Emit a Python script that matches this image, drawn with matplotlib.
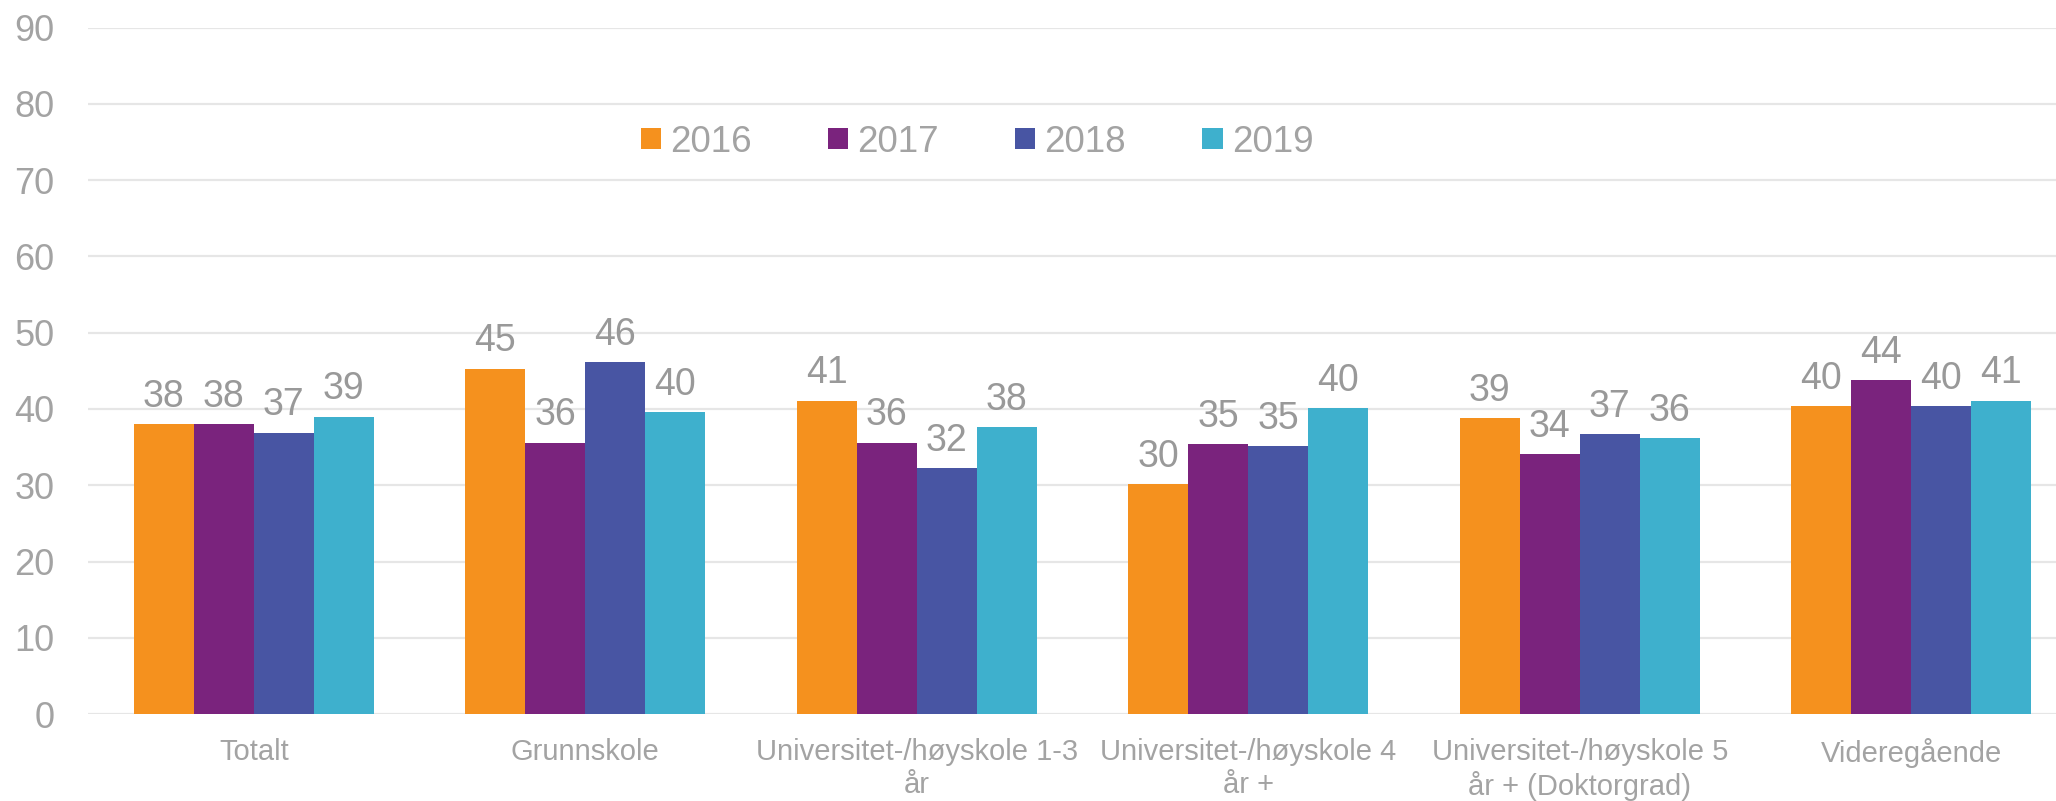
import numpy as np
import matplotlib
matplotlib.use("Agg")
import matplotlib.pyplot as plt

categories = [
    "Totalt",
    "Grunnskole",
    "Universitet-/høyskole 1-3\når",
    "Universitet-/høyskole 4\når +",
    "Universitet-/høyskole 5\når + (Doktorgrad)",
    "Videregående",
]
years = ["2016", "2017", "2018", "2019"]
v2016 = [38.0, 45.3, 41.1, 30.1, 38.8, 40.35]
v2017 = [38.0, 35.6, 35.6, 35.4, 34.05, 43.8]
v2018 = [36.9, 46.1, 32.2, 35.1, 36.7, 40.35]
v2019 = [39.0, 39.6, 37.6, 40.1, 36.15, 41.1]
colors = ["#F5911E", "#7A237D", "#4855A3", "#3EB0CD"]

plt.rcParams["font.family"] = ["Liberation Sans", "DejaVu Sans"]
text_gray = "#A3A3A3"
label_gray = "#999999"

fig = plt.figure(figsize=(20.56, 8.01), dpi=100)
ax = fig.add_axes([88 / 2056, 0.1086, 1989 / 2056, 0.9654 - 0.1086])

x = np.arange(len(categories))
w = 0.181
series = [v2016, v2017, v2018, v2019]
for i, (vals, year, col) in enumerate(zip(series, years, colors)):
    bars = ax.bar(x + (i - 1.5) * w, vals, width=w, color=col, label=year, zorder=2)
    for b, v in zip(bars, vals):
        ax.annotate(f"{v:.0f}", (b.get_x() + b.get_width() / 2, v),
                    xytext=(0, 12.5), textcoords="offset points",
                    ha="center", va="baseline", fontsize=27, color=label_gray)

ax.set_xlim(-0.5, len(categories) - 0.5)
ax.set_ylim(0, 90)
ax.set_yticks(np.arange(0, 91, 10))
ax.grid(axis="y", color="#E6E6E6", linewidth=1.6, zorder=0)
ax.set_axisbelow(True)
for s in ax.spines.values():
    s.set_visible(False)

ax.set_xticks(x)
ax.set_xticklabels(categories, fontsize=21, color=text_gray, linespacing=1.24)
ax.tick_params(axis="x", length=0, pad=17)
ax.tick_params(axis="y", length=0, pad=24, labelsize=26, labelcolor=text_gray)

leg = ax.legend(ncol=4, loc="center", bbox_to_anchor=(0.447, 0.833), frameon=False,
                fontsize=26.5, handlelength=0.55, handleheight=0.5,
                handletextpad=0.25, columnspacing=2.07)
for t in leg.get_texts():
    t.set_color(text_gray)

fig.savefig("out.png", dpi=100)
